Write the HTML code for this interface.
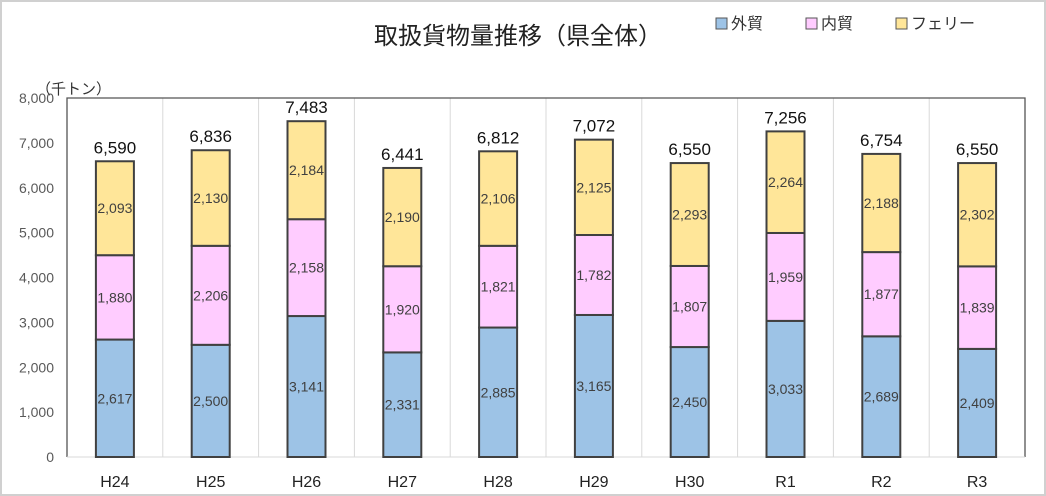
<!DOCTYPE html>
<html><head><meta charset="utf-8"><style>
body{margin:0;background:#fff;}
svg{display:block;font-family:"Liberation Sans","Noto Sans CJK JP",sans-serif;}
</style></head><body>
<svg id="c" width="1046" height="496">
<rect x="1" y="1" width="1044" height="494" fill="#fff" stroke="#d0d0d0" stroke-width="2"/>
<text x="518" y="44" font-size="24" text-anchor="middle" fill="#222">取扱貨物量推移（県全体）</text>
<g>
<rect x="716" y="18" width="11" height="11" fill="#9dc3e6" stroke="#555"/>
<text x="731" y="29" font-size="16" fill="#333">外貿</text>
<rect x="806" y="18" width="11" height="11" fill="#ffccff" stroke="#555"/>
<text x="821" y="29" font-size="16" fill="#333">内貿</text>
<rect x="896" y="18" width="11" height="11" fill="#ffe699" stroke="#555"/>
<text x="911" y="29" font-size="16" fill="#333">フェリー</text>
</g>
<text x="36" y="94" font-size="15" fill="#333">（千トン）</text>
<g id="plot"></g>
</svg>
<script>
const categories=["H24","H25","H26","H27","H28","H29","H30","R1","R2","R3"];
const gaiboeki=[2617,2500,3141,2331,2885,3165,2450,3033,2689,2409];
const naiboeki=[1880,2206,2158,1920,1821,1782,1807,1959,1877,1839];
const ferry=[2093,2130,2184,2190,2106,2125,2293,2264,2188,2302];
const totals=[6590,6836,7483,6441,6812,7072,6550,7256,6754,6550];
const yTicks=[0,1000,2000,3000,4000,5000,6000,7000,8000];
const X0=67,X1=1025,Y0=457,Y1=98,YMAX=8000;
const band=(X1-X0)/categories.length;
const y=v=>Y0-(v/YMAX)*(Y0-Y1);
const xc=i=>X0+band*(i+0.5);
const NS="http://www.w3.org/2000/svg";
const g=document.getElementById('plot');
function mk(t,a){const e=document.createElementNS(NS,t);for(const k in a)e.setAttribute(k,a[k]);g.appendChild(e);return e;}
for(let i=1;i<categories.length;i++){
 const l=mk('line',{x1:X0+band*i,x2:X0+band*i,y1:Y1,y2:Y0,stroke:'#d9d9d9','stroke-width':1});
 
 
}
const frame=mk('path',{d:`M${X0},${Y0}V${Y1}H${X1}V${Y0}`,fill:'none',stroke:'#555','stroke-width':1.3});


const xa=mk('line',{x1:X0,x2:X1,y1:Y0,y2:Y0,stroke:'#d9d9d9','stroke-width':1});


yTicks.forEach(v=>{
 const t=mk('text',{x:54,y:y(v)+5,'font-size':14,fill:'#595959','text-anchor':'end'});
 t.textContent=v.toLocaleString('en-US');
 
 
});
const series=[[gaiboeki,'#9dc3e6','gaiboeki'],[naiboeki,'#ffccff','naiboeki'],[ferry,'#ffe699','ferry']];
const bw=38;
categories.forEach((c,i)=>{
 let base=0;
 series.forEach(([arr,col,nm])=>{
  const v=arr[i];
  const r=mk('rect',{x:xc(i)-bw/2,y:y(base+v),width:bw,height:y(base)-y(base+v),fill:col,stroke:'#404040','stroke-width':2});
  
  
  const t=mk('text',{x:xc(i),y:(y(base)+y(base+v))/2+5,'font-size':14,fill:'#404040','text-anchor':'middle'});
  t.textContent=v.toLocaleString('en-US');
  
  
  base+=v;
 });
 const tt=mk('text',{x:xc(i),y:y(base)-8,'font-size':17,fill:'#111','text-anchor':'middle'});
 tt.textContent=totals[i].toLocaleString('en-US');
 
 
 const xl=mk('text',{x:xc(i),y:487,'font-size':16,fill:'#222','text-anchor':'middle'});
 xl.textContent=c;
 
 
});
</script>
</body></html>
